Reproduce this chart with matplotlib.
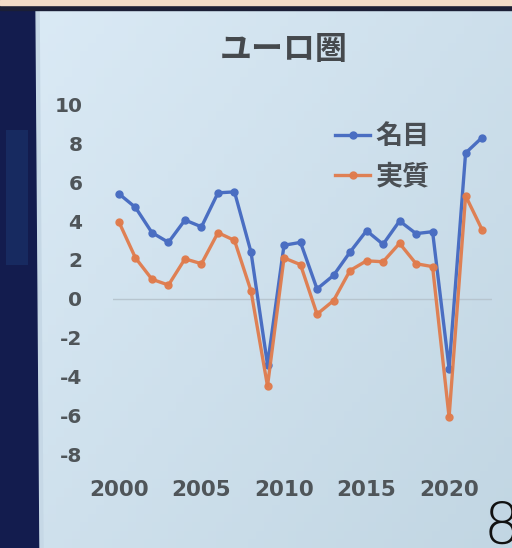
import numpy as np
import matplotlib.pyplot as plt
import matplotlib.patches as patches

plt.rcParams['font.family'] = ['Noto Sans CJK JP', 'DejaVu Sans']
plt.rcParams['axes.unicode_minus'] = False

years = list(range(2000, 2023))
nominal = [5.4, 4.7, 3.4, 2.9, 4.05, 3.7, 5.45, 5.5, 2.4, -3.4, 2.75, 2.9, 0.5,
           1.2, 2.4, 3.5, 2.8, 4.0, 3.35, 3.45, -3.6, 7.5, 8.3]
real = [3.95, 2.1, 1.0, 0.7, 2.05, 1.8, 3.4, 3.0, 0.4, -4.5, 2.1, 1.75, -0.8,
        -0.1, 1.45, 1.95, 1.9, 2.85, 1.8, 1.65, -6.1, 5.3, 3.55]
series_names = ['名目', '実質']
y_ticks = [-8, -6, -4, -2, 0, 2, 4, 6, 8, 10]
x_ticks = [2000, 2005, 2010, 2015, 2020]

W, H = 512, 548
fig = plt.figure(figsize=(W / 100, H / 100), dpi=100)
fig.patch.set_facecolor('#d2e3ef')


def fx(px):
    return px / W


def fy(py):
    return 1 - py / H


# light panel with a soft gradient (brighter towards the top-left)
bg = fig.add_axes([0, 0, 1, 1], zorder=-2)
bg.set_axis_off()
gx, gy = np.meshgrid(np.linspace(0, 1, 64), np.linspace(0, 1, 64))
shade = 0.55 * gx + 0.45 * gy
c0 = np.array([0.86, 0.92, 0.965])
c1 = np.array([0.76, 0.84, 0.89])
img = c0[None, None, :] * (1 - shade[..., None]) + c1[None, None, :] * shade[..., None]
bg.imshow(img, extent=[0, 1, 0, 1], aspect='auto', origin='upper')
bg.set_xlim(0, 1)
bg.set_ylim(0, 1)

# slide frame: navy strip on the left, thin bar on top
bg.add_patch(patches.Polygon([(0, 0), (fx(40), 0), (fx(36), 1), (0, 1)], closed=True,
                             color='#131c4e', zorder=2))
bg.add_patch(patches.Rectangle((fx(6), fy(265)), fx(22), 135 / H, color='#1b3670',
                               alpha=0.55, zorder=3, linewidth=0))
bg.add_patch(patches.Polygon([(fx(36), 1), (fx(40), 0), (fx(43), 0), (fx(39), 1)],
                             closed=True, color='#c6d8e6', zorder=2))
bg.add_patch(patches.Rectangle((0, fy(10)), 1, 5 / H, color='#1b1f36', zorder=4))
bg.add_patch(patches.Rectangle((0, fy(5)), 1, 5 / H, color='#f2dcc8', zorder=4))

ax = fig.add_axes([fx(113), fy(454), fx(492) - fx(113), fy(104.5) - fy(454)])
ax.set_facecolor('none')

ax.axhline(0, color='#b7c5cf', linewidth=1, zorder=1)
ax.plot(years, nominal, color='#4a6ec2', linewidth=2.4, marker='o', markersize=5,
        label=series_names[0], zorder=3)
ax.plot(years, real, color='#e07b4c', linewidth=2.4, marker='o', markersize=5,
        label=series_names[1], zorder=4, alpha=0.95)

ax.set_xlim(1999.64, 2022.6)
ax.set_ylim(-8, 10)
ax.set_yticks(y_ticks)
ax.set_xticks(x_ticks)
for s in ax.spines.values():
    s.set_visible(False)
ax.tick_params(length=0)
ax.tick_params(axis='y', pad=22)
ax.tick_params(axis='x', pad=19)
for lab in ax.get_yticklabels():
    lab.set_fontfamily('DejaVu Sans')
    lab.set_fontweight('bold')
    lab.set_fontsize(14.5)
    lab.set_color('#4f5559')
for lab in ax.get_xticklabels():
    lab.set_fontfamily('DejaVu Sans')
    lab.set_fontweight('bold')
    lab.set_fontsize(15.5)
    lab.set_color('#4f5559')

leg = ax.legend(loc='upper left', bbox_to_anchor=(fx(335), fy(122)),
                bbox_transform=fig.transFigure, frameon=False, borderpad=0,
                borderaxespad=0, handlelength=1.3, handletextpad=0.2,
                labelspacing=0.45,
                prop={'family': 'Noto Sans CJK JP', 'weight': 'bold', 'size': 19.5})
for t in leg.get_texts():
    t.set_color('#4a4f54')

fig.text(fx(284), fy(50), 'ユーロ圏', ha='center', va='center', fontsize=23,
         fontweight='bold', color='#45494d')
fig.text(fx(484), fy(544), '8', ha='left', va='baseline', fontsize=41,
         family='DejaVu Sans', fontweight='light', color='#111111')

fig.savefig('out.png', dpi=100, facecolor=fig.get_facecolor())
